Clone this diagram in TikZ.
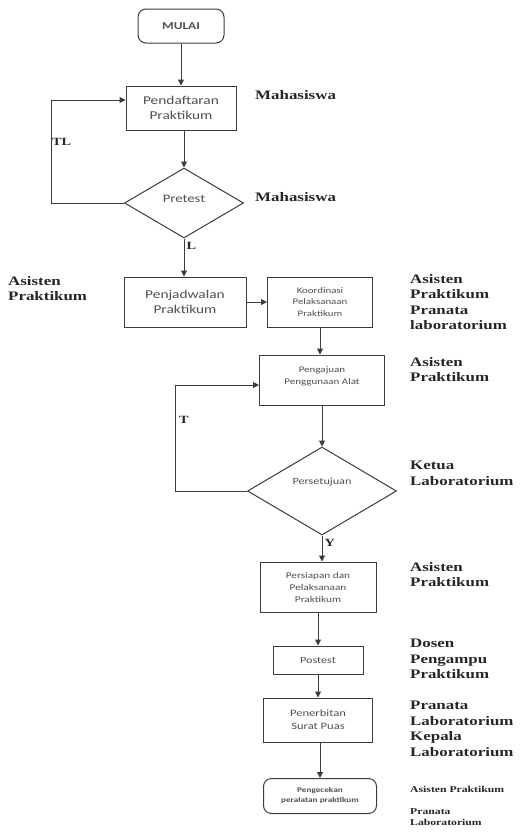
\documentclass[tikz,border=0pt]{standalone}
\usepackage{fontspec}
\usetikzlibrary{shapes.geometric,arrows.meta}
\newfontfamily\boxfont{Carlito}[FakeStretch=1.28]
\newfontfamily\rolefont{Liberation Serif}[FakeStretch=1.3]
\definecolor{LineGray}{RGB}{60,60,60}
\definecolor{TextGray}{RGB}{80,80,80}

\begin{document}
\begin{tikzpicture}[x=1pt,y=-1pt,
  proc/.style={draw=LineGray,line width=1pt,fill=white,align=center,
               text=TextGray,inner sep=1pt},
  term/.style={proc,rounded corners=8pt},
  dec/.style={proc,diamond,inner sep=0pt},
  arr/.style={-{Triangle[length=6pt,width=6pt]},draw=LineGray,line width=1pt},
  role/.style={anchor=north west,align=left,inner sep=0pt,text=black!85,
               font=\rolefont\fontsize{13}{15.5}\selectfont\bfseries},
  smallrole/.style={role,font=\rolefont\fontsize{9}{11}\selectfont\bfseries},
  yn/.style={anchor=west,inner sep=0pt,text=black!85,
             font=\rolefont\fontsize{11}{13}\selectfont\bfseries},
]
\useasboundingbox (0,0) rectangle (520,835);

% alur utama
\node[term,minimum width=86pt,minimum height=34pt,
      font=\boxfont\fontsize{10.5}{12}\selectfont\bfseries] (mulai) at (181,26) {MULAI};
\node[proc,minimum width=110pt,minimum height=44pt,
      font=\boxfont\fontsize{12}{15}\selectfont] (daftar) at (181,108)
  {Pendaftaran\\Praktikum};
\node[dec,minimum width=119pt,minimum height=70pt,text depth=8pt,
      font=\boxfont\fontsize{11.5}{13}\selectfont] (pretest) at (184,203) {Pretest};
\node[proc,minimum width=122pt,minimum height=50pt,
      font=\boxfont\fontsize{12}{15}\selectfont] (jadwal) at (185,302)
  {Penjadwalan\\Praktikum};
\node[proc,minimum width=105pt,minimum height=50pt,
      font=\boxfont\fontsize{8.5}{11.5}\selectfont] (koord) at (320,302)
  {Koordinasi\\Pelaksanaan\\Praktikum};
\node[proc,minimum width=125pt,minimum height=50pt,text depth=8pt,
      font=\boxfont\fontsize{8.6}{12}\selectfont] (ajuan) at (322,380)
  {Pengajuan\\Penggunaan Alat};
\node[dec,minimum width=149pt,minimum height=88pt,text depth=20pt,
      font=\boxfont\fontsize{9.5}{11}\selectfont] (setuju) at (322,491) {Persetujuan};
\node[proc,minimum width=116pt,minimum height=50pt,
      font=\boxfont\fontsize{8.8}{12}\selectfont] (siap) at (318,587)
  {Persiapan dan\\Pelaksanaan\\Praktikum};
\node[proc,minimum width=90pt,minimum height=28pt,
      font=\boxfont\fontsize{9.5}{11}\selectfont] (postest) at (318,660) {Postest};
\node[proc,minimum width=109pt,minimum height=44pt,
      font=\boxfont\fontsize{9.8}{13}\selectfont] (terbit) at (318,720)
  {Penerbitan\\Surat Puas};
\node[term,minimum width=113pt,minimum height=35pt,
      font=\boxfont\fontsize{7.2}{10}\selectfont\bfseries] (cek) at (320,796)
  {Pengecekan\\peralatan praktikum};

% titik balik
\coordinate (tl) at (51,100);
\coordinate (t) at (175,385);

\draw[arr] (mulai) -- (mulai |- daftar.north);
\draw[arr] (daftar.south -| pretest) -- (pretest.north);
\draw[arr] (pretest.west) -| (tl) -- (tl -| daftar.west);
\draw[arr] (pretest.south) -- (pretest.south |- jadwal.north)
  node[yn,pos=0.2,xshift=2pt] {L};
\draw[arr] (jadwal) -- (koord);
\draw[arr] (koord.south) -- (koord.south |- ajuan.north);
\draw[arr] (ajuan.south -| setuju) -- (setuju.north);
\draw[arr] (setuju.west) -| (t) -- (t -| ajuan.west);
\draw[arr] (setuju.south) -- (setuju.south |- siap.north)
  node[yn,pos=0.3,xshift=2pt] {Y};
\draw[arr] (siap.south -| postest) -- (postest.north);
\draw[arr] (postest) -- (terbit);
\draw[arr] (terbit.south -| cek) -- (cek.north);

% label cabang
\node[yn] (lbltl) at (52,142) {TL};
\node[yn] (lblt) at (179,420) {T};

% pelaksana
\node[role,anchor=west] (r1) at (255,95) {Mahasiswa};
\node[role,anchor=west] (r2) at (255,197) {Mahasiswa};
\node[role] (r3) at (8,276) {Asisten\\Praktikum};
\node[role] (r4) at (410,274) {Asisten\\Praktikum\\Pranata\\laboratorium};
\node[role] (r5) at (410,357) {Asisten\\Praktikum};
\node[role] (r6) at (410,461) {Ketua\\Laboratorium};
\node[role] (r7) at (410,562) {Asisten\\Praktikum};
\node[role] (r8) at (410,639) {Dosen\\Pengampu\\Praktikum};
\node[role] (r9) at (410,701) {Pranata\\Laboratorium\\Kepala\\Laboratorium};
\node[smallrole] (r10) at (410,786) {Asisten Praktikum};
\node[smallrole] (r11) at (410,808) {Pranata\\Laboratorium};
\end{tikzpicture}
\end{document}
